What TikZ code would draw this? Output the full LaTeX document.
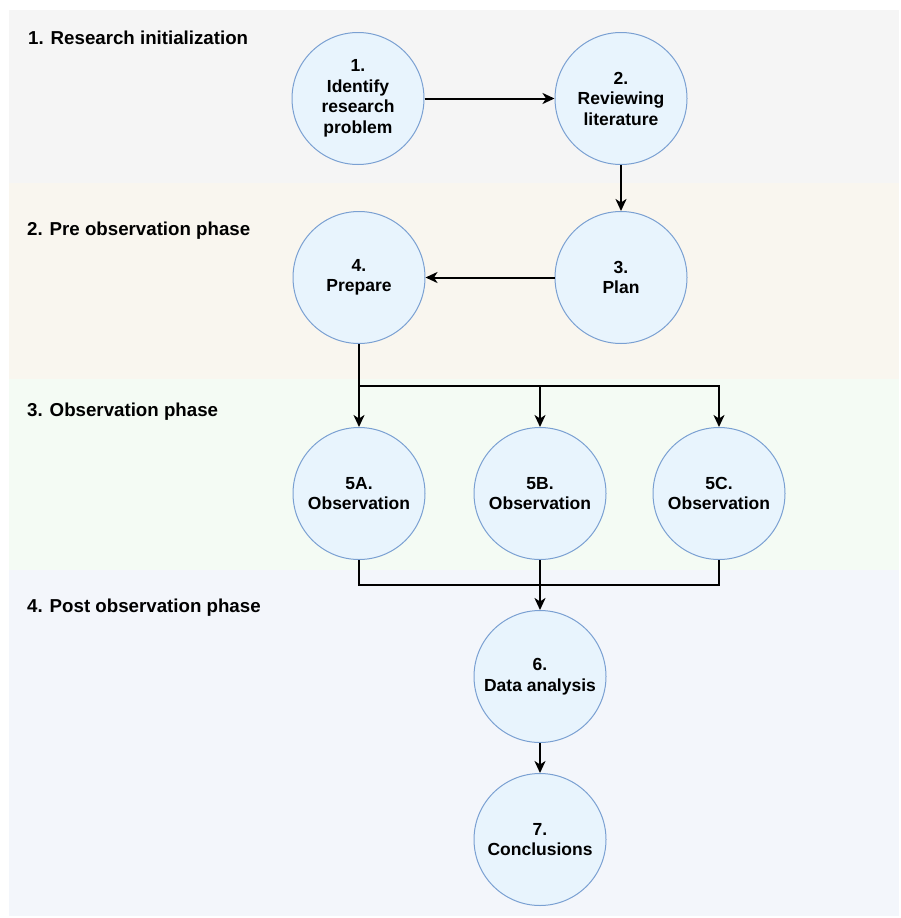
\documentclass[tikz,border=0pt]{standalone}
\usepackage{fontspec}
\setmainfont{Liberation Sans}
\usetikzlibrary{arrows.meta,calc}
\definecolor{bandgray}{RGB}{245,245,245}
\definecolor{bandsand}{RGB}{249,246,239}
\definecolor{bandmint}{RGB}{244,251,244}
\definecolor{bandblue}{RGB}{243,246,251}
\definecolor{stagefill}{RGB}{232,244,253}
\definecolor{stageline}{RGB}{122,160,210}
\begin{document}
\begin{tikzpicture}[x=1pt, y=-1pt,
    stage/.style={circle, draw=stageline, line width=1pt, fill=stagefill,
      minimum size=132pt, inner sep=0pt, align=center,
      font=\fontsize{17.5}{20.5}\selectfont\bfseries},
    lanetitle/.style={anchor=west, inner sep=0pt,
      font=\fontsize{18.7}{22}\selectfont\bfseries},
    flow/.style={draw=black, line width=2pt,
      -{Stealth[length=12pt, width=11pt, inset=3.5pt]}},
    bus/.style={draw=black, line width=2pt}]
        \useasboundingbox (0,0) rectangle (901,918);

        %bande
        \fill[bandgray] (9,9.5) rectangle (899,183);
        \fill[bandsand] (9,183) rectangle (899,379);
        \fill[bandmint] (9,379) rectangle (899,570);
        \fill[bandblue] (9,570) rectangle (899,916);

        \node[lanetitle] (t1) at (28,38) {1. Research initialization};
        \node[lanetitle] (t2) at (27,231) {2. Pre observation phase};
        \node[lanetitle] (t3) at (27,412) {3. Observation phase};
        \node[lanetitle] (t4) at (27,608) {4. Post observation phase};

        %cerchi
        \node[stage] (c1) at (358,98.5) {1.\\Identify\\research\\problem};
        \node[stage] (c2) at (621,98.5) {2.\\Reviewing\\literature};
        \node[stage] (c3) at (621,277.5) {3.\\Plan};
        \node[stage] (c4) at (359,277.5) {4.\\Prepare};
        \node[stage] (c5a) at (359,493.5) {5A.\\Observation};
        \node[stage] (c5b) at (540,493.5) {5B.\\Observation};
        \node[stage] (c5c) at (719,493.5) {5C.\\Observation};
        \node[stage] (c6) at (540,676.5) {6.\\Data analysis};
        \node[stage] (c7) at (540,839.5) {7.\\Conclusions};

        %frecce
        \draw[flow] (c1) -- (c2);
        \draw[flow] (c2) -- (c3);
        \draw[flow] (c3) -- (c4);

        \coordinate (split) at ($(c4.south)!0.5!(c5a.north)$);
        \draw[flow] (c4) -- (c5a);
        \draw[flow] (split) -| (c5b);
        \draw[flow] (split) -| (c5c);

        \coordinate (join) at ($(c5b.south)!0.5!(c6.north)$);
        \draw[bus] (c5a.south) |- (join);
        \draw[bus] (c5c.south) |- (join);
        \draw[flow] (c5b) -- (c6);
        \draw[flow] (c6) -- (c7);
    \end{tikzpicture}
\end{document}
